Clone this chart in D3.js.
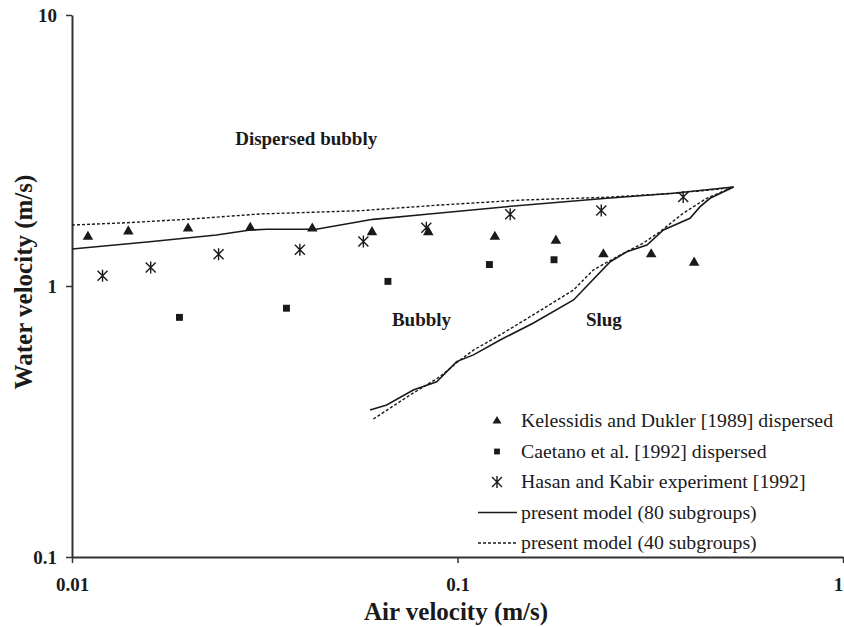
<!DOCTYPE html>
<html>
<head>
<meta charset="utf-8">
<script src="https://d3js.org/d3.v7.min.js"></script>
<style>
  body { margin: 0; background: #fff; }
  svg { display: block; }
  svg text { font-family: "Liberation Serif", "Times New Roman", serif; }
</style>
</head>
<body>
<svg></svg>
<script>
let width = 844, height = 627;

// Kelessidis and Dukler [1989] dispersed (triangles)
let kelessidisX = [0.011, 0.014, 0.020, 0.029, 0.042, 0.060, 0.084, 0.125, 0.180, 0.239, 0.318, 0.411];
let kelessidisY = [1.52, 1.59, 1.63, 1.64, 1.63, 1.58, 1.58, 1.52, 1.47, 1.31, 1.31, 1.22];

// Caetano et al. [1992] dispersed (squares)
let caetanoX = [0.019, 0.036, 0.066, 0.121, 0.178];
let caetanoY = [0.766, 0.828, 1.04, 1.20, 1.25];

// Hasan and Kabir experiment [1992] (asterisks)
let hasanX = [0.012, 0.016, 0.024, 0.039, 0.057, 0.083, 0.137, 0.236, 0.385];
let hasanY = [1.09, 1.17, 1.31, 1.36, 1.46, 1.64, 1.84, 1.90, 2.13];

// present model, 80 subgroups (solid) - upper branch then back down the slug boundary
let model80X = [0.01, 0.0159, 0.0237, 0.029, 0.032, 0.043, 0.0604, 0.0832, 0.134, 0.244, 0.363, 0.52,
    0.452, 0.426, 0.401, 0.342, 0.310, 0.275, 0.249, 0.200, 0.157, 0.129, 0.110, 0.0995, 0.0883, 0.0768, 0.0655, 0.0593];
let model80Y = [1.369, 1.457, 1.542, 1.609, 1.62, 1.62, 1.762, 1.839, 1.962, 2.107, 2.198, 2.32,
    2.107, 1.962, 1.778, 1.609, 1.417, 1.338, 1.229, 0.888, 0.729, 0.632, 0.557, 0.526, 0.443, 0.413, 0.364, 0.349];

// present model, 40 subgroups (dotted)
let model40X = [0.01, 0.0139, 0.0198, 0.0307, 0.0414, 0.0559, 0.0901, 0.148, 0.244, 0.363, 0.470, 0.52,
    0.443, 0.385, 0.335, 0.303, 0.264, 0.225, 0.200, 0.157, 0.129, 0.110, 0.1015, 0.0901, 0.0753, 0.0599];
let model40Y = [1.679, 1.712, 1.762, 1.844, 1.870, 1.896, 1.99, 2.077, 2.125, 2.198, 2.274, 2.32,
    2.107, 1.855, 1.586, 1.438, 1.301, 1.146, 0.967, 0.782, 0.660, 0.580, 0.533, 0.463, 0.396, 0.320];

let xTicks = [0.01, 0.1, 1];
let yTicks = [0.1, 1, 10];

let regionLabels = ["Dispersed bubbly", "Bubbly", "Slug"];
let regionAt = [[0.0265, 3.31], [0.0676, 0.712], [0.2154, 0.712]];

let legendLabels = [
    "Kelessidis and Dukler [1989] dispersed",
    "Caetano et al. [1992] dispersed",
    "Hasan and Kabir experiment [1992]",
    "present model (80 subgroups)",
    "present model (40 subgroups)"
];

let svg = d3.select("svg")
    .attr("width", width)
    .attr("height", height);

let x = d3.scaleLog().domain([0.01, 1]).range([72, 843]);
let y = d3.scaleLog().domain([0.1, 10]).range([557, 15]);

let ink = "#1a1a1a";
let serif = "Liberation Serif, Times New Roman, serif";

// axes
let xAxis = svg.append("g")
    .attr("transform", "translate(0," + y(0.1) + ")")
    .call(d3.axisBottom(x).tickValues(xTicks).tickSize(6).tickSizeOuter(0)
        .tickFormat(d => d3.format("")(d)));

let yAxis = svg.append("g")
    .attr("transform", "translate(" + x(0.01) + ",0)")
    .call(d3.axisLeft(y).tickValues(yTicks).tickSize(6).tickSizeOuter(0)
        .tickFormat(d => d3.format("")(d)));

[xAxis, yAxis].forEach(a => {
    a.attr("font-family", serif);
    a.select(".domain").attr("stroke", "#333").attr("stroke-width", 2);
    a.selectAll(".tick line").attr("stroke", "#333").attr("stroke-width", 1.5);
    a.selectAll(".tick text")
        .attr("fill", ink)
        .style("font-size", "19px")
        .style("font-weight", "bold");
});

xAxis.selectAll(".tick text").attr("dy", "1.3em");
xAxis.selectAll(".tick text").filter(d => d === 1).attr("dx", -5);
yAxis.selectAll(".tick text").attr("dx", -6);

svg.append("text")
    .attr("x", 456)
    .attr("y", 620)
    .attr("text-anchor", "middle")
    .style("font-size", "25px")
    .style("font-weight", "bold")
    .attr("fill", ink)
    .text("Air velocity (m/s)");

svg.append("text")
    .attr("transform", "translate(32,282) rotate(-90)")
    .attr("text-anchor", "middle")
    .style("font-size", "25px")
    .style("font-weight", "bold")
    .attr("fill", ink)
    .text("Water velocity (m/s)");

// model curves
let line = d3.line().x(d => x(d[0])).y(d => y(d[1]));

svg.append("path")
    .datum(d3.zip(model80X, model80Y))
    .attr("d", line)
    .attr("fill", "none")
    .attr("stroke", ink)
    .attr("stroke-width", 1.6);

svg.append("path")
    .datum(d3.zip(model40X, model40Y))
    .attr("d", line)
    .attr("fill", "none")
    .attr("stroke", ink)
    .attr("stroke-width", 1.4)
    .attr("stroke-dasharray", "3,2");

// marker shapes
let triangle = d3.symbol().type(d3.symbolTriangle).size(48);
let square = d3.symbol().type(d3.symbolSquare).size(48);

function drawStar(g, cx, cy) {
    let r = 5;
    g.append("path")
        .attr("d", `M${cx - r},${cy - r}L${cx + r},${cy + r}M${cx - r},${cy + r}L${cx + r},${cy - r}M${cx},${cy - r - 1}L${cx},${cy + r + 1}`)
        .attr("stroke", ink)
        .attr("stroke-width", 1.4)
        .attr("fill", "none");
}

svg.append("g").selectAll("path")
    .data(d3.zip(kelessidisX, kelessidisY))
    .enter()
    .append("path")
    .attr("d", triangle)
    .attr("transform", d => "translate(" + x(d[0]) + "," + y(d[1]) + ")")
    .attr("fill", ink);

svg.append("g").selectAll("path")
    .data(d3.zip(caetanoX, caetanoY))
    .enter()
    .append("path")
    .attr("d", square)
    .attr("transform", d => "translate(" + x(d[0]) + "," + y(d[1]) + ")")
    .attr("fill", ink);

let stars = svg.append("g");
d3.zip(hasanX, hasanY).forEach(d => drawStar(stars, x(d[0]), y(d[1])));

// region labels
svg.append("g").selectAll("text")
    .data(regionLabels)
    .enter()
    .append("text")
    .attr("x", (d, i) => x(regionAt[i][0]))
    .attr("y", (d, i) => y(regionAt[i][1]))
    .style("font-size", "19px")
    .style("font-weight", "bold")
    .attr("fill", ink)
    .text(d => d);

// legend
let legend = svg.append("g").attr("transform", "translate(497,421)");

legend.selectAll("text")
    .data(legendLabels)
    .enter()
    .append("text")
    .attr("x", 24)
    .attr("y", (d, i) => i * 30.5 + 6)
    .style("font-size", "19.8px")
    .attr("fill", ink)
    .text(d => d);

legend.append("path")
    .attr("d", d3.symbol().type(d3.symbolTriangle).size(34))
    .attr("fill", ink);

legend.append("path")
    .attr("d", d3.symbol().type(d3.symbolSquare).size(34))
    .attr("transform", "translate(0,30.5)")
    .attr("fill", ink);

drawStar(legend, 0, 61);

legend.append("line")
    .attr("x1", -19).attr("x2", 20)
    .attr("y1", 91.5).attr("y2", 91.5)
    .attr("stroke", ink)
    .attr("stroke-width", 1.6);

legend.append("line")
    .attr("x1", -19).attr("x2", 20)
    .attr("y1", 122).attr("y2", 122)
    .attr("stroke", ink)
    .attr("stroke-width", 1.4)
    .attr("stroke-dasharray", "3,2");
</script>
</body>
</html>
